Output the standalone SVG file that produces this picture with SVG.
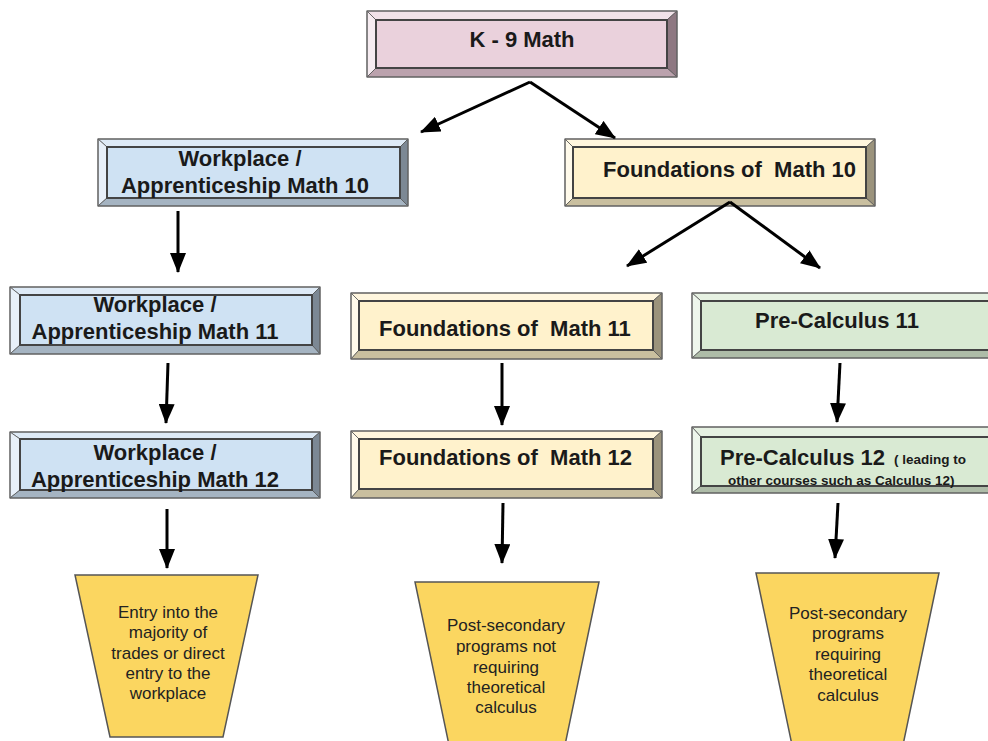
<svg xmlns="http://www.w3.org/2000/svg" width="988" height="741" viewBox="0 0 988 741">
<defs>
<marker id="ah" viewBox="0 0 20 16" refX="19" refY="8" markerWidth="20" markerHeight="16" markerUnits="userSpaceOnUse" orient="auto">
<path d="M0,0 L20,8 L0,16 z" fill="#000"/>
</marker>
</defs>
<style>
.edge{stroke:#000;stroke-width:3;fill:none;marker-end:url(#ah)}
.o{fill:none;stroke:#666;stroke-width:1.2}
.i{stroke:#444;stroke-width:2}
.f{stroke:#555;stroke-width:0.8}
.t{font-family:"Liberation Sans",Arial,sans-serif;font-weight:bold;font-size:22px;fill:#1a1a1a}
.s{font-family:"Liberation Sans",Arial,sans-serif;font-weight:bold;font-size:13.5px;fill:#1a1a1a}
.r{font-family:"Liberation Sans",Arial,sans-serif;font-size:17px;fill:#222;text-anchor:middle}
.m{text-anchor:middle}
.pk .face{fill:#ead1dc}.pk .tp{fill:#f1e2e9}.pk .lf{fill:#f6ecf1}.pk .rt{fill:#8e7882}.pk .bt{fill:#bba2ad}
.bl .face{fill:#cfe2f3}.bl .tp{fill:#deeaf6}.bl .lf{fill:#e8f0f9}.bl .rt{fill:#7c8894}.bl .bt{fill:#a5b4c2}
.tn .face{fill:#fff2cc}.tn .tp{fill:#fff6de}.tn .lf{fill:#fffaea}.tn .rt{fill:#9b937c}.tn .bt{fill:#c9bf9f}
.gr .face{fill:#d9ead3}.gr .tp{fill:#e6f1e2}.gr .lf{fill:#eef6ec}.gr .rt{fill:#84917f}.gr .bt{fill:#aebca8}
.trap{fill:#fbd660;stroke:#555;stroke-width:1.5}
</style>
<rect width="988" height="741" fill="#fff"/>

<g id="k9" class="pk">
<polygon class="tp f" points="367,11 677,11 667,20 376,20"/>
<polygon class="lf f" points="367,11 376,20 376,68 367,77"/>
<polygon class="rt f" points="677,11 677,77 667,68 667,20"/>
<polygon class="bt f" points="367,77 376,68 667,68 677,77"/>
<rect class="face i" x="376" y="20" width="291" height="48"/>
<rect class="o" x="367" y="11" width="310" height="66"/>
<text class="t m" x="522" y="47">K - 9 Math</text>
</g>

<g id="w10" class="bl">
<polygon class="tp f" points="98,139 408,139 400,147 107,147"/>
<polygon class="lf f" points="98,139 107,147 107,198 98,206"/>
<polygon class="rt f" points="408,139 408,206 400,198 400,147"/>
<polygon class="bt f" points="98,206 107,198 400,198 408,206"/>
<rect class="face i" x="107" y="147" width="293" height="51"/>
<rect class="o" x="98" y="139" width="310" height="67"/>
<text class="t m" x="240" y="166">Workplace /</text>
<text class="t m" x="245" y="193">Apprenticeship Math 10</text>
</g>

<g id="f10" class="tn">
<polygon class="tp f" points="565,139 875,139 866,147 573,147"/>
<polygon class="lf f" points="565,139 573,147 573,198 565,206"/>
<polygon class="rt f" points="875,139 875,206 866,198 866,147"/>
<polygon class="bt f" points="565,206 573,198 866,198 875,206"/>
<rect class="face i" x="573" y="147" width="293" height="51"/>
<rect class="o" x="565" y="139" width="310" height="67"/>
<text class="t" x="603" y="177" xml:space="preserve">Foundations of  Math 10</text>
</g>

<g id="w11" class="bl">
<polygon class="tp f" points="10,287 320,287 312,295 20,295"/>
<polygon class="lf f" points="10,287 20,295 20,345 10,354"/>
<polygon class="rt f" points="320,287 320,354 312,345 312,295"/>
<polygon class="bt f" points="10,354 20,345 312,345 320,354"/>
<rect class="face i" x="20" y="295" width="292" height="50"/>
<rect class="o" x="10" y="287" width="310" height="67"/>
<text class="t m" x="155" y="312">Workplace /</text>
<text class="t m" x="155" y="339">Apprenticeship Math 11</text>
</g>

<g id="f11" class="tn">
<polygon class="tp f" points="351,293 662,293 653,301 359,301"/>
<polygon class="lf f" points="351,293 359,301 359,350 351,359"/>
<polygon class="rt f" points="662,293 662,359 653,350 653,301"/>
<polygon class="bt f" points="351,359 359,350 653,350 662,359"/>
<rect class="face i" x="359" y="301" width="294" height="49"/>
<rect class="o" x="351" y="293" width="311" height="66"/>
<text class="t" x="379" y="336" xml:space="preserve">Foundations of  Math 11</text>
</g>

<g id="p11" class="gr">
<polygon class="tp f" points="692,293 1000,293 991,301 701,301"/>
<polygon class="lf f" points="692,293 701,301 701,350 692,358"/>
<polygon class="rt f" points="1000,293 1000,358 991,350 991,301"/>
<polygon class="bt f" points="692,358 701,350 991,350 1000,358"/>
<rect class="face i" x="701" y="301" width="290" height="49"/>
<rect class="o" x="692" y="293" width="308" height="65"/>
<text class="t" x="755" y="328">Pre-Calculus 11</text>
</g>

<g id="w12" class="bl">
<polygon class="tp f" points="10,432 320,432 312,439 20,439"/>
<polygon class="lf f" points="10,432 20,439 20,490 10,498"/>
<polygon class="rt f" points="320,432 320,498 312,490 312,439"/>
<polygon class="bt f" points="10,498 20,490 312,490 320,498"/>
<rect class="face i" x="20" y="439" width="292" height="51"/>
<rect class="o" x="10" y="432" width="310" height="66"/>
<text class="t m" x="155" y="460">Workplace /</text>
<text class="t m" x="155" y="487">Apprenticeship Math 12</text>
</g>

<g id="f12" class="tn">
<polygon class="tp f" points="351,431 662,431 653,439 359,439"/>
<polygon class="lf f" points="351,431 359,439 359,489 351,498"/>
<polygon class="rt f" points="662,431 662,498 653,489 653,439"/>
<polygon class="bt f" points="351,498 359,489 653,489 662,498"/>
<rect class="face i" x="359" y="439" width="294" height="50"/>
<rect class="o" x="351" y="431" width="311" height="67"/>
<text class="t" x="379" y="465" xml:space="preserve">Foundations of  Math 12</text>
</g>

<g id="p12" class="gr">
<polygon class="tp f" points="692,427 1000,427 991,437 701,437"/>
<polygon class="lf f" points="692,427 701,437 701,486 692,493"/>
<polygon class="rt f" points="1000,427 1000,493 991,486 991,437"/>
<polygon class="bt f" points="692,493 701,486 991,486 1000,493"/>
<rect class="face i" x="701" y="437" width="290" height="49"/>
<rect class="o" x="692" y="427" width="308" height="66"/>
<text class="t" x="720" y="465">Pre-Calculus 12</text>
<text class="s" x="894" y="464">( leading to</text>
<text class="s" x="728" y="485">other courses such as Calculus 12)</text>
</g>

<g id="out1">
<polygon class="trap" points="75,575 258,575 223,737 110,737"/>
<text class="r"><tspan x="168" y="618">Entry into the</tspan><tspan x="168" y="638">majority of</tspan><tspan x="168" y="659">trades or direct</tspan><tspan x="168" y="679">entry to the</tspan><tspan x="168" y="699">workplace</tspan></text>
</g>

<g id="out2">
<polygon class="trap" points="415,582 599,582 565,745 449,745"/>
<text class="r"><tspan x="506" y="631">Post-secondary</tspan><tspan x="506" y="652">programs not</tspan><tspan x="506" y="673">requiring</tspan><tspan x="506" y="693">theoretical</tspan><tspan x="506" y="713">calculus</tspan></text>
</g>

<g id="out3">
<polygon class="trap" points="756,573 939,573 903,745 792,745"/>
<text class="r"><tspan x="848" y="619">Post-secondary</tspan><tspan x="848" y="639">programs</tspan><tspan x="848" y="660">requiring</tspan><tspan x="848" y="680">theoretical</tspan><tspan x="848" y="701">calculus</tspan></text>
</g>

<g id="connectors">
<path class="edge" d="M530,82 L421,132"/>
<path class="edge" d="M530,82 L615,138"/>
<path class="edge" d="M730,202 L627,266"/>
<path class="edge" d="M730,202 L820,268"/>
<path class="edge" d="M178,211 L178,272"/>
<path class="edge" d="M168,363 L166,423"/>
<path class="edge" d="M167,509 L167,568"/>
<path class="edge" d="M502,363 L502,425"/>
<path class="edge" d="M503,503 L502,563"/>
<path class="edge" d="M840,363 L837,422"/>
<path class="edge" d="M838,503 L835,558"/>
</g>
</svg>
